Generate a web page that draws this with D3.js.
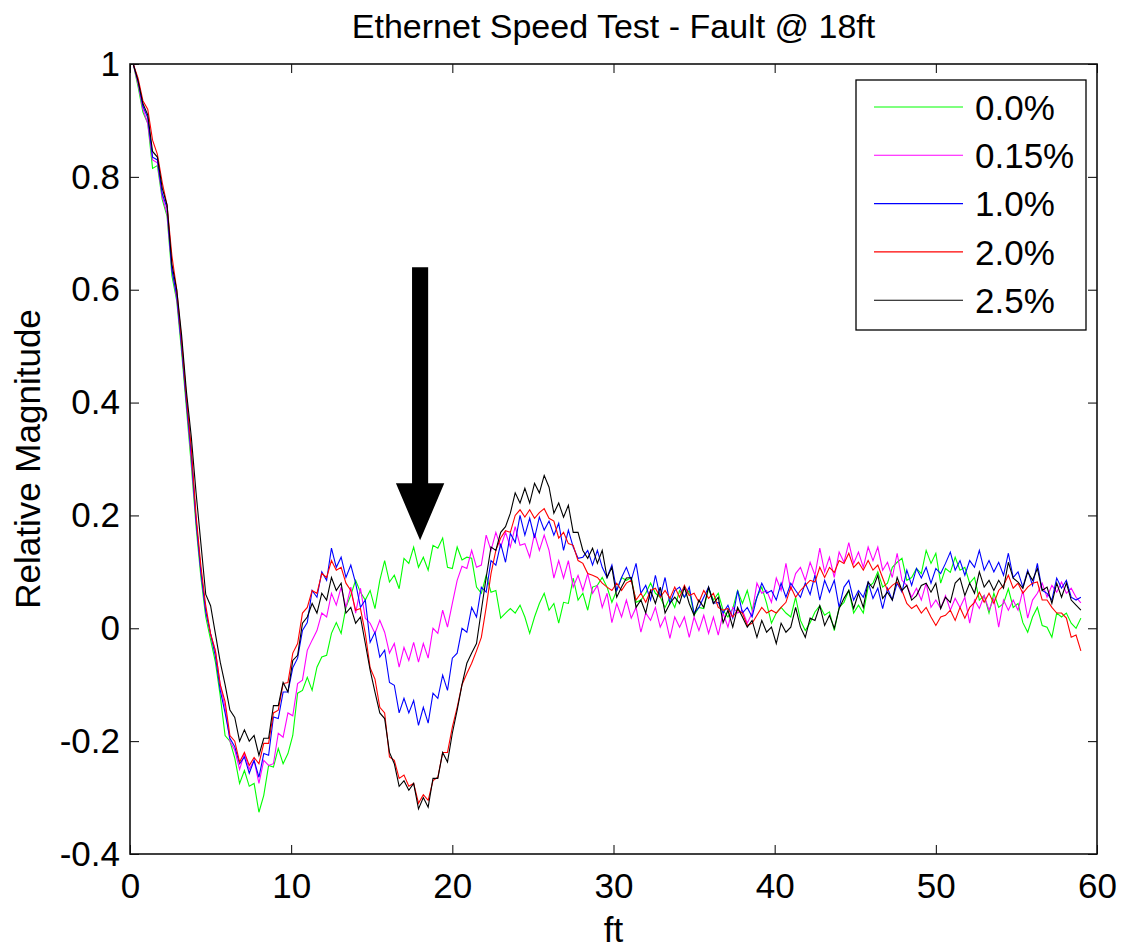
<!DOCTYPE html>
<html>
<head>
<meta charset="utf-8">
<script src="https://cdn.jsdelivr.net/npm/d3@7"></script>
<style>
  body { margin: 0; background: #fff; }
  text { font-family: "Liberation Sans", Arial, Helvetica, sans-serif; fill: #000; }
</style>
</head>
<body>
<script>
// Samples start at 0.2 ft and are spaced 0.3 ft apart
const xStart = 0.2;
const xStep = 0.3;

const xTicks = [0, 10, 20, 30, 40, 50, 60];
const yTicks = [-0.4, -0.2, 0, 0.2, 0.4, 0.6, 0.8, 1];

const seriesLabels = ["0.0%", "0.15%", "1.0%", "2.0%", "2.5%"];
const seriesColors = ["#00ff00", "#ff00ff", "#0000ff", "#ff0000", "#000000"];

// relative magnitude, one value per sample
const fault00 = [1.0, 0.96, 0.915, 0.895, 0.815, 0.82, 0.76, 0.73, 0.625, 0.58, 0.49, 0.39, 0.29,
  0.18, 0.09, 0.02, -0.02, -0.06, -0.12, -0.19,
  -0.2, -0.23, -0.275, -0.252, -0.28, -0.275, -0.326, -0.296, -0.243, -0.246, -0.213, -0.24, -0.222, -0.19, -0.115, -0.11, -0.087, -0.11, -0.069, -0.051, -0.048, -0.009, 0.01, -0.009, 0.037, 0.059, 0.085, 0.064, 0.05, 0.067, 0.035, 0.085,
  0.12, 0.082, 0.094, 0.07, 0.124, 0.115, 0.144, 0.108, 0.126, 0.103, 0.147, 0.142, 0.16, 0.108, 0.106, 0.144, 0.121, 0.126, 0.124, 0.073, 0.062, 0.094, 0.064, 0.067, 0.018, 0.027, 0.035, 0.027, 0.041, 0.02, -0.009, 0.02, 0.044, 0.062, 0.032, 0.044, 0.009, 0.046, 0.044, 0.089, 0.05, 0.062, 0.032, 0.073, 0.076, 0.09, 0.073,
  0.046, 0.067, 0.09, 0.085, 0.09, 0.046, 0.05, 0.062, 0.08, 0.062, 0.055, 0.037, 0.055, 0.037, 0.067, 0.055, 0.067, 0.023, 0.037, 0.035, 0.071, 0.05, 0.062, 0.032, 0.02, 0.035, 0.067, 0.044, 0.067, 0.032, 0.055, 0.073, 0.044, 0.009, 0.027, 0.037, 0.027, 0.02, 0.055, 0.014, -0.004,
  0.01, 0.029, 0.04, 0.023, 0.029, -0.004, 0.037, 0.046, 0.067, 0.027, 0.041, 0.027, 0.073, 0.08, 0.1, 0.073, 0.08, 0.108, 0.117, 0.124, 0.085, 0.09, 0.106, 0.097, 0.138, 0.115, 0.133, 0.08, 0.106, 0.099, 0.126, 0.103, 0.108, 0.08, 0.09, 0.05, 0.058, 0.027, 0.062, 0.037, 0.044, 0.07, 0.037, 0.044, 0.01, -0.007, 0.02, 0.037, 0.005, 0.002, -0.016, 0.027, 0.02, 0.027, 0.009, 0.0, 0.018];

const fault015 = [1.0, 0.965, 0.92, 0.895, 0.83, 0.825, 0.765, 0.735, 0.635, 0.585, 0.50, 0.40, 0.30,
  0.19, 0.10, 0.03, -0.01, -0.04, -0.10, -0.14,
  -0.2, -0.216, -0.25, -0.222, -0.25, -0.234, -0.275, -0.234, -0.243, -0.24, -0.186, -0.193, -0.15, -0.155, -0.098, -0.092, -0.039, -0.021, -0.004, 0.027, 0.02, 0.062, 0.041, 0.073, 0.037, 0.073, 0.027, 0.071, 0.018, 0.009, -0.009, 0.014,
  -0.007, -0.044, -0.027, -0.069, -0.034, -0.057, -0.025, -0.06, -0.027, -0.053, 0.0, -0.009, 0.032, 0.002, 0.044, 0.085, 0.11, 0.106, 0.138, 0.108, 0.112, 0.165, 0.138, 0.17, 0.144, 0.17, 0.144, 0.18, 0.147, 0.15, 0.126, 0.168, 0.138, 0.165, 0.138, 0.089, 0.12, 0.089, 0.12, 0.073, 0.094, 0.067, 0.097, 0.062, 0.076, 0.037, 0.062,
  0.01, 0.044, 0.02, 0.05, 0.018, 0.037, -0.007, 0.027, 0.014, 0.037, 0.002, 0.02, -0.018, 0.02, 0.002, 0.02, -0.016, 0.02, -0.004, 0.023, -0.009, 0.02, -0.012, 0.027, 0.002, 0.037, 0.027, 0.032, 0.009, 0.027, 0.08, 0.062, 0.067, 0.046, 0.089, 0.067, 0.115, 0.067, 0.097, 0.108, 0.085,
  0.117, 0.094, 0.142, 0.1, 0.126, 0.09, 0.135, 0.117, 0.152, 0.115, 0.135, 0.108, 0.144, 0.12, 0.144, 0.103, 0.117, 0.09, 0.133, 0.085, 0.076, 0.055, 0.071, 0.05, 0.08, 0.037, 0.05, 0.035, 0.058, 0.032, 0.053, 0.037, 0.055, 0.009, 0.05, 0.035, 0.058, 0.032, 0.053, 0.002, 0.05, 0.032, 0.05, 0.032, 0.067, 0.018, 0.05, 0.062, 0.08, 0.055, 0.076, 0.064, 0.082, 0.062, 0.071, 0.055, 0.045];

const fault10 = [1.0, 0.97, 0.925, 0.905, 0.835, 0.83, 0.77, 0.745, 0.635, 0.59, 0.50, 0.40, 0.31,
  0.19, 0.10, 0.03, -0.01, -0.05, -0.11, -0.15,
  -0.195, -0.21, -0.24, -0.228, -0.257, -0.234, -0.264, -0.222, -0.225, -0.157, -0.16, -0.113, -0.113, -0.07, -0.053, -0.004, 0.01, 0.067, 0.055, 0.10, 0.085, 0.142, 0.108, 0.126, 0.09, 0.112, 0.08, 0.037, 0.05, -0.025, -0.007, -0.051,
  -0.039, -0.096, -0.101, -0.15, -0.124, -0.15, -0.128, -0.172, -0.14, -0.168, -0.115, -0.124, -0.083, -0.11, -0.053, -0.044, 0.0, -0.007, 0.037, 0.02, 0.073, 0.064, 0.12, 0.112, 0.15, 0.117, 0.168, 0.152, 0.2, 0.165, 0.195, 0.16, 0.197, 0.174, 0.19, 0.165, 0.186, 0.138, 0.174, 0.144, 0.124, 0.126, 0.138, 0.112, 0.138, 0.108, 0.09,
  0.112, 0.067, 0.09, 0.108, 0.085, 0.115, 0.062, 0.076, 0.05, 0.094, 0.055, 0.09, 0.044, 0.067, 0.073, 0.055, 0.073, 0.027, 0.037, 0.055, 0.073, 0.044, 0.046, 0.027, 0.041, 0.018, 0.067, 0.027, 0.037, 0.02, 0.055, 0.08, 0.062, 0.067, 0.05, 0.08, 0.055, 0.08, 0.067, 0.055, 0.08,
  0.06, 0.094, 0.05, 0.085, 0.064, 0.085, 0.037, 0.073, 0.085, 0.05, 0.067, 0.055, 0.082, 0.053, 0.071, 0.035, 0.071, 0.05, 0.08, 0.064, 0.103, 0.076, 0.106, 0.089, 0.108, 0.08, 0.106, 0.097, 0.115, 0.135, 0.103, 0.12, 0.094, 0.12, 0.108, 0.138, 0.103, 0.12, 0.1, 0.117, 0.094, 0.133, 0.09, 0.1, 0.073, 0.103, 0.076, 0.115, 0.067, 0.062, 0.05, 0.089, 0.071, 0.085, 0.055, 0.05, 0.055];

const fault20 = [1.0, 0.975, 0.935, 0.92, 0.865, 0.84, 0.79, 0.75, 0.66, 0.60, 0.51, 0.41, 0.32,
  0.20, 0.11, 0.04, -0.01, -0.04, -0.10, -0.13,
  -0.19, -0.2, -0.237, -0.22, -0.243, -0.229, -0.24, -0.204, -0.204, -0.15, -0.145, -0.098, -0.096, -0.044, -0.027, 0.027, 0.037, 0.067, 0.062, 0.097, 0.09, 0.12, 0.103, 0.108, 0.08, 0.067, 0.032, 0.035, -0.009, -0.07, -0.09, -0.14,
  -0.15, -0.228, -0.234, -0.266, -0.26, -0.28, -0.275, -0.31, -0.295, -0.305, -0.27, -0.264, -0.22, -0.22, -0.175, -0.14, -0.1, -0.08, -0.062, -0.04, -0.016, 0.037, 0.097, 0.138, 0.16, 0.173, 0.17, 0.2, 0.21, 0.197, 0.21, 0.195, 0.205, 0.212, 0.195, 0.19, 0.16, 0.17, 0.15, 0.147, 0.12, 0.115, 0.097, 0.094, 0.09, 0.08, 0.073,
  0.067, 0.08, 0.067, 0.08, 0.085, 0.05, 0.062, 0.046, 0.067, 0.071, 0.055, 0.067, 0.053, 0.073, 0.055, 0.076, 0.058, 0.062, 0.046, 0.067, 0.053, 0.062, 0.037, 0.032, 0.035, 0.02, 0.032, 0.027, 0.005, 0.009, 0.023, 0.037, 0.027, 0.032, 0.027, 0.037, 0.046, 0.073, 0.055, 0.067, 0.076,
  0.085, 0.082, 0.108, 0.09, 0.108, 0.099, 0.12, 0.115, 0.133, 0.108, 0.117, 0.103, 0.12, 0.103, 0.112, 0.089, 0.067, 0.076, 0.082, 0.067, 0.044, 0.035, 0.041, 0.027, 0.037, 0.02, 0.005, 0.02, 0.023, 0.032, 0.014, 0.037, 0.018, 0.037, 0.046, 0.064, 0.046, 0.062, 0.044, 0.067, 0.076, 0.094, 0.071, 0.08, 0.062, 0.073, 0.08, 0.082, 0.05, 0.05, 0.037, 0.027, 0.027, 0.018, -0.016, -0.012, -0.04];

const fault25 = [1.0, 0.97, 0.93, 0.91, 0.845, 0.835, 0.78, 0.75, 0.645, 0.60, 0.52, 0.42, 0.34,
  0.24, 0.15, 0.06, 0.04, -0.01, -0.06, -0.10,
  -0.145, -0.158, -0.20, -0.18, -0.20, -0.19, -0.225, -0.195, -0.195, -0.137, -0.137, -0.096, -0.113, -0.057, -0.048, 0.009, 0.02, 0.044, 0.027, 0.062, 0.05, 0.09, 0.067, 0.08, 0.027, 0.037, 0.009, 0.02, -0.027, -0.074, -0.113, -0.15,
  -0.16, -0.22, -0.24, -0.28, -0.27, -0.287, -0.275, -0.32, -0.30, -0.317, -0.266, -0.266, -0.22, -0.237, -0.186, -0.145, -0.1, -0.062, -0.044, -0.027, 0.032, 0.09, 0.144, 0.138, 0.17, 0.18, 0.204, 0.24, 0.222, 0.248, 0.222, 0.257, 0.24, 0.271, 0.25, 0.204, 0.222, 0.197, 0.218, 0.17, 0.17, 0.138, 0.124, 0.142, 0.115, 0.138, 0.09,
  0.108, 0.055, 0.073, 0.089, 0.09, 0.037, 0.05, 0.027, 0.067, 0.044, 0.073, 0.027, 0.044, 0.055, 0.044, 0.073, 0.044, 0.023, 0.05, 0.037, 0.073, 0.044, 0.055, 0.01, 0.032, 0.002, 0.037, 0.02, 0.002, 0.014, -0.016, 0.014, -0.007, 0.002, -0.027, 0.009, -0.007, 0.002, 0.037, 0.002, -0.016,
  0.018, 0.014, 0.04, 0.005, 0.023, 0.0, 0.035, 0.053, 0.067, 0.035, 0.062, 0.037, 0.082, 0.071, 0.094, 0.053, 0.064, 0.05, 0.09, 0.067, 0.076, 0.05, 0.058, 0.076, 0.08, 0.064, 0.08, 0.035, 0.055, 0.046, 0.08, 0.089, 0.058, 0.08, 0.062, 0.1, 0.073, 0.085, 0.067, 0.085, 0.071, 0.117, 0.089, 0.082, 0.071, 0.1, 0.085, 0.106, 0.067, 0.073, 0.044, 0.08, 0.055, 0.08, 0.05, 0.041, 0.032];

const seriesValues = [fault00, fault015, fault10, fault20, fault25];

// the arrow marking the fault position (ft / magnitude)
const arrowAt = { x: 18, top: 0.64, neck: 0.257, tip: 0.156, shaft: 0.5, head: 1.5 };

// Set up the SVG canvas
const margin = { top: 64, right: 28, bottom: 95, left: 130 };
const width = 1125 - margin.left - margin.right;
const height = 949 - margin.top - margin.bottom;
const fontSize = 35;

const root = d3.select("body").append("svg")
    .attr("width", 1125)
    .attr("height", 949)
    .style("background", "#fff");

const svg = root.append("g")
    .attr("transform", `translate(${margin.left},${margin.top})`);

const x = d3.scaleLinear().domain([0, 60]).range([0, width]);
const y = d3.scaleLinear().domain([-0.4, 1]).range([height, 0]);

const fmt = d => String(+d.toFixed(1));

// MATLAB style: ticks point inwards on all four sides
svg.append("g")
  .attr("class", "axis")
  .attr("transform", `translate(0,${height})`)
  .call(d3.axisBottom(x).tickValues(xTicks).tickSizeInner(-9).tickSizeOuter(0).tickPadding(19).tickFormat(fmt));

svg.append("g")
  .attr("class", "axis")
  .call(d3.axisTop(x).tickValues(xTicks).tickSizeInner(-9).tickSizeOuter(0).tickFormat(""));

svg.append("g")
  .attr("class", "axis")
  .call(d3.axisLeft(y).tickValues(yTicks).tickSizeInner(-9).tickSizeOuter(0).tickPadding(10).tickFormat(fmt));

svg.append("g")
  .attr("class", "axis")
  .attr("transform", `translate(${width},0)`)
  .call(d3.axisRight(y).tickValues(yTicks).tickSizeInner(-9).tickSizeOuter(0).tickFormat(""));

svg.selectAll(".axis .domain").remove();
svg.selectAll(".axis line").attr("stroke", "#000");
svg.selectAll(".axis text")
  .style("font-size", fontSize + "px")
  .style("font-family", "'Liberation Sans', Arial, sans-serif")
  .attr("fill", "#000");

// traces
const line = d3.line()
  .x((d, i) => x(xStart + i * xStep))
  .y(d => y(d));

svg.selectAll(".trace")
  .data(seriesValues)
  .enter().append("path")
  .attr("class", "trace")
  .attr("d", line)
  .attr("fill", "none")
  .attr("stroke", (d, i) => seriesColors[i])
  .attr("stroke-width", 1.1)
  .attr("stroke-linejoin", "miter");

// axes box
svg.append("rect")
  .attr("width", width)
  .attr("height", height)
  .attr("fill", "none")
  .attr("stroke", "#111")
  .attr("stroke-width", 1.6);

// arrow annotation
const arrowPts = [
  [arrowAt.x - arrowAt.shaft, arrowAt.top],
  [arrowAt.x + arrowAt.shaft, arrowAt.top],
  [arrowAt.x + arrowAt.shaft, arrowAt.neck],
  [arrowAt.x + arrowAt.head, arrowAt.neck],
  [arrowAt.x, arrowAt.tip],
  [arrowAt.x - arrowAt.head, arrowAt.neck],
  [arrowAt.x - arrowAt.shaft, arrowAt.neck]
];
svg.append("path")
  .attr("d", "M" + arrowPts.map(p => `${x(p[0])},${y(p[1])}`).join("L") + "Z")
  .attr("fill", "#000");

// legend
const legend = svg.append("g")
  .attr("transform", `translate(${width - 241},16)`);

legend.append("rect")
  .attr("width", 230)
  .attr("height", 250)
  .attr("fill", "#fff")
  .attr("stroke", "#000")
  .attr("stroke-width", 1.3);

const entries = legend.selectAll(".entry")
  .data(seriesLabels)
  .enter().append("g")
  .attr("class", "entry")
  .attr("transform", (d, i) => `translate(0,${27 + i * 48.3})`);

entries.append("line")
  .attr("x1", 18)
  .attr("x2", 107)
  .attr("stroke", (d, i) => seriesColors[i])
  .attr("stroke-width", 1.1);

entries.append("text")
  .attr("x", 119)
  .attr("dy", "0.36em")
  .style("font-size", fontSize + "px")
  .text(d => d);

// titles
root.append("text")
  .attr("x", margin.left + width / 2)
  .attr("y", 38)
  .attr("text-anchor", "middle")
  .style("font-size", "34px")
  .text("Ethernet Speed Test - Fault @ 18ft");

root.append("text")
  .attr("x", margin.left + width / 2)
  .attr("y", 942)
  .attr("text-anchor", "middle")
  .style("font-size", fontSize + "px")
  .text("ft");

root.append("text")
  .attr("transform", `translate(40,${margin.top + height / 2}) rotate(-90)`)
  .attr("text-anchor", "middle")
  .style("font-size", fontSize + "px")
  .text("Relative Magnitude");
</script>
</body>
</html>
